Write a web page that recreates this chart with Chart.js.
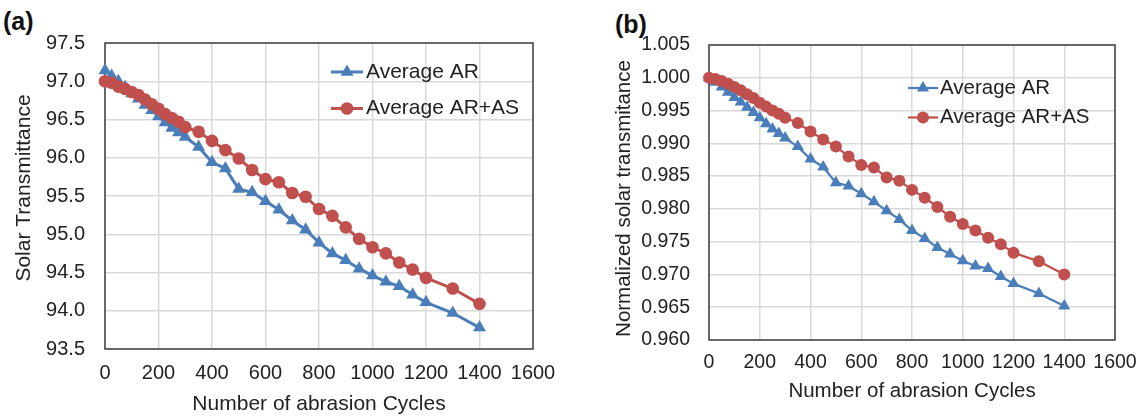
<!DOCTYPE html>
<html>
<head>
<meta charset="utf-8">
<script src="https://cdn.jsdelivr.net/npm/chart.js@4.4.1/dist/chart.umd.min.js"></script>
<style>
  html, body { margin: 0; padding: 0; background: #fff; }
  body { width: 1148px; height: 418px; position: relative; overflow: hidden; font-family: "Liberation Sans", Arial, sans-serif; }
  canvas { position: absolute; top: 0; }
  #chartA { left: 0; }
  #chartB { left: 574px; }
  .panel { position: absolute; font-weight: bold; font-size: 25px; line-height: 1; color: #111; }
</style>
</head>
<body>
<div class="panel" style="left:3px;top:9px">(a)</div>
<div class="panel" style="left:615px;top:12px">(b)</div>
<canvas id="chartA" width="574" height="418"></canvas>
<canvas id="chartB" width="574" height="418"></canvas>
<script>
// abrasion cycles (x)
const cycles = [0, 25, 50, 75, 100, 125, 150, 175, 200, 225, 250, 275, 300,
  350, 400, 450, 500, 550, 600, 650, 700, 750, 800, 850, 900, 950, 1000,
  1050, 1100, 1150, 1200, 1300, 1400];

// (a) solar transmittance
const arTrans = [97.14, 97.07, 97.00, 96.92, 96.84, 96.77, 96.69, 96.62, 96.54, 96.46, 96.39, 96.33, 96.27,
  96.14, 95.94, 95.86, 95.59, 95.55, 95.43, 95.32, 95.18, 95.06, 94.89, 94.75, 94.66, 94.55, 94.46,
  94.38, 94.32, 94.21, 94.11, 93.97, 93.78];
const arAsTrans = [97.00, 96.98, 96.93, 96.90, 96.86, 96.82, 96.76, 96.70, 96.64, 96.57, 96.52, 96.47, 96.40,
  96.34, 96.22, 96.10, 95.99, 95.84, 95.72, 95.68, 95.54, 95.49, 95.33, 95.24, 95.09, 94.94, 94.83,
  94.75, 94.63, 94.54, 94.43, 94.29, 94.09];

// (b) normalized solar transmitance
const arNorm = [1.0000, 0.9993, 0.9986, 0.9978, 0.9970, 0.9963, 0.9955, 0.9947, 0.9939, 0.9930, 0.9922, 0.9915, 0.9908,
  0.9895, 0.9876, 0.9864, 0.9840, 0.9835, 0.9823, 0.9811, 0.9797, 0.9784, 0.9767, 0.9755, 0.9741, 0.9731, 0.9721,
  0.9713, 0.9709, 0.9697, 0.9686, 0.9671, 0.9652];
const arAsNorm = [1.0000, 0.9998, 0.9995, 0.9991, 0.9986, 0.9981, 0.9975, 0.9969, 0.9962, 0.9956, 0.9950, 0.9945, 0.9939,
  0.9931, 0.9918, 0.9906, 0.9895, 0.9880, 0.9867, 0.9863, 0.9848, 0.9843, 0.9829, 0.9817, 0.9803, 0.9788, 0.9777,
  0.9767, 0.9756, 0.9746, 0.9733, 0.9720, 0.9700];

const xTicks = [0, 200, 400, 600, 800, 1000, 1200, 1400, 1600];
const yTicksA = [93.5, 94.0, 94.5, 95.0, 95.5, 96.0, 96.5, 97.0, 97.5];
const yTicksB = [0.960, 0.965, 0.970, 0.975, 0.980, 0.985, 0.990, 0.995, 1.000, 1.005];

const FONT = '"Liberation Sans", Arial, sans-serif';
const TEXT = '#222';
const BLUE = '#4A7EBB';
const RED = '#C0504D';
const GRID = '#d9d9d9';

function pts(ys) {
  return cycles.map((c, i) => ({ x: c, y: ys[i] }));
}

function drawMarker(ctx, style, x, y, r, color) {
  ctx.fillStyle = color;
  ctx.beginPath();
  if (style === 'triangle') {
    let a = 0;
    ctx.moveTo(x + Math.sin(a) * r, y - Math.cos(a) * r);
    a += Math.PI * 2 / 3;
    ctx.lineTo(x + Math.sin(a) * r, y - Math.cos(a) * r);
    a += Math.PI * 2 / 3;
    ctx.lineTo(x + Math.sin(a) * r, y - Math.cos(a) * r);
    ctx.closePath();
  } else {
    ctx.arc(x, y, r, 0, Math.PI * 2);
  }
  ctx.fill();
}

// plot frame
const framePlugin = {
  id: 'frame',
  beforeDatasetsDraw(chart) {
    const { ctx, chartArea: a } = chart;
    ctx.save();
    ctx.strokeStyle = '#404040';
    ctx.lineWidth = 1.5;
    ctx.strokeRect(a.left, a.top, a.right - a.left, a.bottom - a.top);
    ctx.restore();
  }
};

// rotated y title, placed where the original has it
const yTitlePlugin = {
  id: 'yTitle',
  afterDraw(chart, args, o) {
    const ctx = chart.ctx;
    ctx.save();
    ctx.translate(o.x, o.y);
    ctx.rotate(-Math.PI / 2);
    ctx.font = o.size + 'px ' + FONT;
    ctx.fillStyle = TEXT;
    ctx.textAlign = 'center';
    ctx.textBaseline = 'middle';
    ctx.fillText(o.text, 0, 0);
    ctx.restore();
  }
};

// legend inside the plot, no box
const inLegendPlugin = {
  id: 'inLegend',
  afterDatasetsDraw(chart, args, o) {
    const ctx = chart.ctx;
    chart.data.datasets.forEach((ds, i) => {
      const y = o.y + i * o.dy;
      ctx.save();
      ctx.strokeStyle = ds.borderColor;
      ctx.lineWidth = ds.borderWidth;
      ctx.beginPath();
      ctx.moveTo(o.x, y);
      ctx.lineTo(o.x + o.len, y);
      ctx.stroke();
      drawMarker(ctx, ds.pointStyle, o.x + o.len / 2, y, ds.pointRadius, ds.backgroundColor);
      ctx.font = o.size + 'px ' + FONT;
      ctx.fillStyle = TEXT;
      ctx.textAlign = 'left';
      ctx.textBaseline = 'middle';
      ctx.fillText(ds.label, o.x + o.len + o.gap, y);
      ctx.restore();
    });
  }
};

function makeChart(id, cfg) {
  return new Chart(document.getElementById(id), {
    type: 'line',
    data: {
      datasets: [
        {
          label: 'Average AR', data: pts(cfg.ar),
          borderColor: BLUE, backgroundColor: BLUE,
          borderWidth: cfg.lineW, pointStyle: 'triangle', pointRadius: cfg.triR,
          pointBorderWidth: 0, tension: 0, clip: false, order: 1,
        },
        {
          label: 'Average AR+AS', data: pts(cfg.arAs),
          borderColor: RED, backgroundColor: RED,
          borderWidth: cfg.lineW, pointStyle: 'circle', pointRadius: cfg.dotR,
          pointBorderWidth: 0, tension: 0, clip: false, order: 0,
        },
      ],
    },
    options: {
      responsive: false, animation: false, events: [],
      layout: { padding: cfg.pad },
      plugins: {
        legend: { display: false },
        tooltip: { enabled: false },
        yTitle: cfg.yTitle,
        inLegend: cfg.legend,
      },
      scales: {
        x: {
          type: 'linear', min: 0, max: 1600,
          afterBuildTicks: s => { s.ticks = xTicks.map(v => ({ value: v })); },
          afterFit: s => { s.height = cfg.xH; },
          grid: { color: GRID, lineWidth: 1.5, drawTicks: false },
          border: { display: false },
          ticks: {
            color: TEXT, font: { family: FONT, size: cfg.tick }, padding: cfg.xPad,
            maxRotation: 0, autoSkip: false, callback: v => String(v),
          },
          title: {
            display: true, text: 'Number of abrasion Cycles', color: TEXT,
            font: { family: FONT, size: cfg.title }, padding: { top: 0, bottom: cfg.xTitlePad },
          },
        },
        y: {
          type: 'linear', min: cfg.yTicks[0], max: cfg.yTicks[cfg.yTicks.length - 1],
          afterBuildTicks: s => { s.ticks = cfg.yTicks.map(v => ({ value: v })); },
          afterFit: s => { s.width = cfg.yW; },
          grid: { color: GRID, lineWidth: 1.5, drawTicks: false },
          border: { display: false },
          ticks: {
            color: TEXT, font: { family: FONT, size: cfg.tick }, padding: cfg.yPad,
            callback: v => Number(v).toFixed(cfg.dec),
          },
        },
      },
    },
    plugins: [framePlugin, yTitlePlugin, inLegendPlugin],
  });
}

makeChart('chartA', {
  ar: arTrans, arAs: arAsTrans, yTicks: yTicksA, dec: 1,
  pad: { left: 0, top: 43, right: 41, bottom: 0 }, yW: 105, xH: 69,
  tick: 20, title: 21, xPad: 12, yPad: 20, xTitlePad: 1.4,
  lineW: 3, triR: 7.5, dotR: 6.3,
  yTitle: { text: 'Solar Transmittance', x: 24.4, y: 188, size: 21 },
  legend: { x: 331, y: 72, dy: 36.5, len: 32, gap: 3, size: 21 },
});

makeChart('chartB', {
  ar: arNorm, arAs: arAsNorm, yTicks: yTicksB, dec: 3,
  pad: { left: 0, top: 45, right: 27, bottom: 0 }, yW: 135, xH: 78,
  tick: 19.5, title: 20.5, xPad: 11.3, yPad: 19, xTitlePad: 14.2,
  lineW: 2.25, triR: 7, dotR: 6,
  yTitle: { text: 'Normalized solar transmitance', x: 50.6, y: 198.5, size: 20.5 },
  legend: { x: 334, y: 88, dy: 29.5, len: 30, gap: 2, size: 20.5 },
});
</script>
</body>
</html>
